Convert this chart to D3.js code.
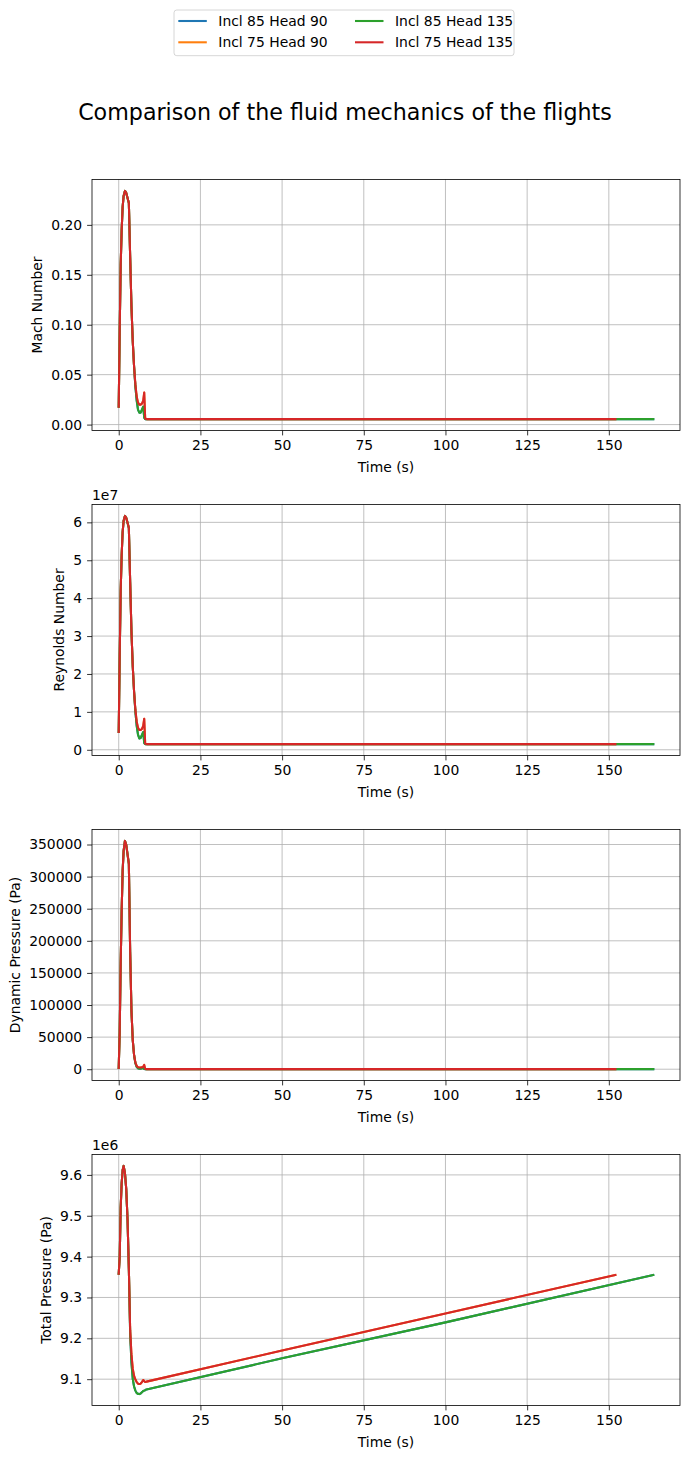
<!DOCTYPE html>
<html>
<head>
<meta charset="utf-8">
<style>
  body { margin: 0; background: #fff; }
  svg text { font-family: "DejaVu Sans", sans-serif; fill: #000; }
</style>
</head>
<body>
<svg id="chart" width="689" height="1458"></svg>
<script src="https://d3js.org/d3.v7.min.js"></script>
<script>
// flights, in plotting order
const flights = ['Incl 85 Head 90', 'Incl 75 Head 90', 'Incl 85 Head 135', 'Incl 75 Head 135'];
const colors = ['#1f77b4', '#ff7f0e', '#2ca02c', '#d62728'];

// time samples (s)
const time85 = [0, 0.3, 0.6, 0.9, 1.2, 1.5, 1.9, 2.3, 2.7, 3.1, 3.5, 3.9, 4.3, 4.7, 5.1, 5.5, 5.9, 6.3, 6.7, 7.1, 7.5, 7.8, 8.1, 8.5, 50, 100, 163.6];
const time75 = [0, 0.3, 0.6, 0.9, 1.2, 1.5, 1.9, 2.3, 2.7, 3.1, 3.5, 3.9, 4.3, 4.7, 5.1, 5.5, 5.9, 6.3, 6.7, 7.1, 7.5, 7.8, 8.1, 8.5, 50, 100, 152];

const mach85 = [0.018, 0.095, 0.160, 0.195, 0.218, 0.229, 0.234, 0.232, 0.227, 0.222, 0.168, 0.118, 0.083, 0.058, 0.038, 0.024, 0.015, 0.012, 0.012, 0.015, 0.018, 0.007, 0.0055, 0.0055, 0.0055, 0.0055, 0.0055];
const mach75 = [0.018, 0.095, 0.160, 0.195, 0.218, 0.229, 0.234, 0.232, 0.227, 0.222, 0.168, 0.118, 0.083, 0.058, 0.040, 0.028, 0.022, 0.020, 0.020, 0.021, 0.024, 0.032, 0.006, 0.0055, 0.0055, 0.0055, 0.0055];

const reynolds85 = [4.7e6, 2.5e7, 4.2e7, 5.14e7, 5.75e7, 6.04e7, 6.17e7, 6.12e7, 5.99e7, 5.85e7, 4.43e7, 3.11e7, 2.19e7, 1.53e7, 1.0e7, 6.3e6, 4.0e6, 3.0e6, 3.1e6, 3.9e6, 4.7e6, 1.8e6, 1.5e6, 1.5e6, 1.5e6, 1.5e6, 1.5e6];
const reynolds75 = [4.7e6, 2.5e7, 4.2e7, 5.14e7, 5.75e7, 6.04e7, 6.17e7, 6.12e7, 5.99e7, 5.85e7, 4.43e7, 3.11e7, 2.19e7, 1.53e7, 1.05e7, 7.4e6, 5.8e6, 5.2e6, 5.2e6, 5.5e6, 6.3e6, 8.2e6, 1.6e6, 1.5e6, 1.5e6, 1.5e6, 1.5e6];

const dynPressure85 = [2100, 58600, 166000, 247000, 309000, 340000, 355600, 349500, 334600, 320000, 183000, 90500, 44800, 21800, 9400, 3700, 1460, 930, 930, 1460, 2100, 320, 200, 200, 200, 200, 200];
const dynPressure75 = [2100, 58600, 166000, 247000, 309000, 340000, 355600, 349500, 334600, 320000, 183000, 90500, 44800, 21800, 10400, 5100, 3140, 2600, 2600, 2870, 3740, 6650, 230, 200, 200, 200, 200];

const totalPressure85 = [9.358e6, 9.40e6, 9.52e6, 9.58e6, 9.612e6, 9.622e6, 9.605e6, 9.565e6, 9.49e6, 9.37e6, 9.21e6, 9.14e6, 9.10e6, 9.082e6, 9.072e6, 9.066e6, 9.064e6, 9.0635e6, 9.065e6, 9.068e6, 9.071e6, 9.072e6, 9.073e6, 9.075e6, 9.151e6, 9.239e6, 9.355e6];
const totalPressure75 = [9.358e6, 9.40e6, 9.52e6, 9.58e6, 9.612e6, 9.622e6, 9.605e6, 9.565e6, 9.49e6, 9.37e6, 9.22e6, 9.16e6, 9.125e6, 9.108e6, 9.099e6, 9.093e6, 9.089e6, 9.088e6, 9.089e6, 9.093e6, 9.098e6, 9.095e6, 9.093e6, 9.094e6, 9.170e6, 9.261e6, 9.355e6];

// tick labels
const timeTicks = [0, 25, 50, 75, 100, 125, 150];
const machTicks = [0, 0.05, 0.10, 0.15, 0.20];
const reynoldsTicks = [0, 1e7, 2e7, 3e7, 4e7, 5e7, 6e7];
const dynTicks = [0, 50000, 100000, 150000, 200000, 250000, 300000, 350000];
const totalTicks = [9.1e6, 9.2e6, 9.3e6, 9.4e6, 9.5e6, 9.6e6];

const flightTimes = [time85, time75, time85, time75];

const panels = [
  { ylabel: 'Mach Number', series: [mach85, mach75, mach85, mach75], ticks: machTicks, fmt: d => d.toFixed(2), offset: null },
  { ylabel: 'Reynolds Number', series: [reynolds85, reynolds75, reynolds85, reynolds75], ticks: reynoldsTicks, fmt: d => String(Math.round(d / 1e7)), offset: '1e7' },
  { ylabel: 'Dynamic Pressure (Pa)', series: [dynPressure85, dynPressure75, dynPressure85, dynPressure75], ticks: dynTicks, fmt: d => String(d), offset: null },
  { ylabel: 'Total Pressure (Pa)', series: [totalPressure85, totalPressure75, totalPressure85, totalPressure75], ticks: totalTicks, fmt: d => (d / 1e6).toFixed(1), offset: '1e6' }
];

const LEFT = 92, RIGHT = 680, PH = 251;
const TOPS = [179.5, 504.5, 829.5, 1154.5];
const FS = 13.9;
const GRID = '#b0b0b0';

const svg = d3.select('#chart');
svg.append('rect').attr('width', 689).attr('height', 1458).attr('fill', '#fff');

// title
svg.append('text')
  .attr('x', 345).attr('y', 120)
  .attr('text-anchor', 'middle')
  .style('font-size', '22.2px')
  .text('Comparison of the fluid mechanics of the flights');

function padded(lo, hi) {
  const r = hi - lo;
  return [lo - 0.05 * r, hi + 0.05 * r];
}

const allTimes = flightTimes.flat();
const x = d3.scaleLinear()
  .domain(padded(d3.min(allTimes), d3.max(allTimes)))
  .range([LEFT, RIGHT]);

panels.forEach((p, pi) => {
  const top = TOPS[pi], bottom = top + PH;
  const allVals = p.series.flat();
  const y = d3.scaleLinear()
    .domain(padded(d3.min(allVals), d3.max(allVals)))
    .range([bottom, top]);

  const g = svg.append('g');

  // grid
  g.selectAll('.gx').data(timeTicks).join('line')
    .attr('x1', d => x(d)).attr('x2', d => x(d))
    .attr('y1', top).attr('y2', bottom)
    .attr('stroke', GRID).attr('stroke-width', 0.8);
  g.selectAll('.gy').data(p.ticks).join('line')
    .attr('x1', LEFT).attr('x2', RIGHT)
    .attr('y1', d => y(d)).attr('y2', d => y(d))
    .attr('stroke', GRID).attr('stroke-width', 0.8);

  // clip
  const clipId = 'clip' + pi;
  svg.append('clipPath').attr('id', clipId)
    .append('rect').attr('x', LEFT).attr('y', top).attr('width', RIGHT - LEFT).attr('height', PH);

  const lines = g.append('g').attr('clip-path', `url(#${clipId})`);
  p.series.forEach((vals, si) => {
    const t = flightTimes[si];
    const line = d3.line().x((d, i) => x(t[i])).y(d => y(d));
    lines.append('path')
      .datum(vals)
      .attr('d', line)
      .attr('fill', 'none')
      .attr('stroke', colors[si])
      .attr('stroke-width', 2.08)
      .attr('stroke-linejoin', 'round')
      .attr('stroke-linecap', 'square');
  });

  // spines
  g.append('rect')
    .attr('x', LEFT).attr('y', top).attr('width', RIGHT - LEFT).attr('height', PH)
    .attr('fill', 'none').attr('stroke', '#000').attr('stroke-width', 0.8);

  // x axis
  const xa = g.append('g').attr('transform', `translate(0,${bottom})`)
    .call(d3.axisBottom(x).tickValues(timeTicks).tickSize(4.9).tickPadding(4.9).tickFormat(d3.format('d')));
  xa.select('.domain').remove();
  xa.selectAll('line').attr('stroke-width', 0.8);
  xa.selectAll('text').style('font-size', FS + 'px').attr('font-family', null);
  xa.attr('font-family', null).attr('font-size', null);

  // y axis
  const ya = g.append('g').attr('transform', `translate(${LEFT},0)`)
    .call(d3.axisLeft(y).tickValues(p.ticks).tickSize(4.9).tickPadding(4.9).tickFormat(p.fmt));
  ya.select('.domain').remove();
  ya.selectAll('line').attr('stroke-width', 0.8);
  ya.selectAll('text').style('font-size', FS + 'px');
  ya.attr('font-family', null).attr('font-size', null);

  // x label
  g.append('text')
    .attr('x', (LEFT + RIGHT) / 2).attr('y', bottom + 41)
    .attr('text-anchor', 'middle')
    .style('font-size', FS + 'px')
    .text('Time (s)');

  // y label
  const bb = ya.node().getBBox();
  const lx = LEFT + bb.x - 9;
  g.append('text')
    .attr('transform', `translate(${lx},${(top + bottom) / 2}) rotate(-90)`)
    .attr('text-anchor', 'middle')
    .style('font-size', FS + 'px')
    .text(p.ylabel);

  if (p.offset) {
    g.append('text')
      .attr('x', LEFT).attr('y', top - 5)
      .style('font-size', FS + 'px')
      .text(p.offset);
  }
});

// legend
const leg = svg.append('g');
leg.append('rect')
  .attr('x', 174).attr('y', 10).attr('width', 340).attr('height', 45.7)
  .attr('rx', 2.8)
  .attr('fill', '#fff').attr('fill-opacity', 0.8)
  .attr('stroke', '#cccccc').attr('stroke-width', 0.8);
const legX = [178.3, 355];
const legY = [21, 42.3];
flights.forEach((name, i) => {
  const col = Math.floor(i / 2), row = i % 2;
  leg.append('line')
    .attr('x1', legX[col]).attr('x2', legX[col] + 28.5)
    .attr('y1', legY[row]).attr('y2', legY[row])
    .attr('stroke', colors[i]).attr('stroke-width', 2.08);
  leg.append('text')
    .attr('x', legX[col] + 40).attr('y', legY[row] + 5)
    .style('font-size', FS + 'px')
    .text(name);
});
</script>
</body>
</html>
